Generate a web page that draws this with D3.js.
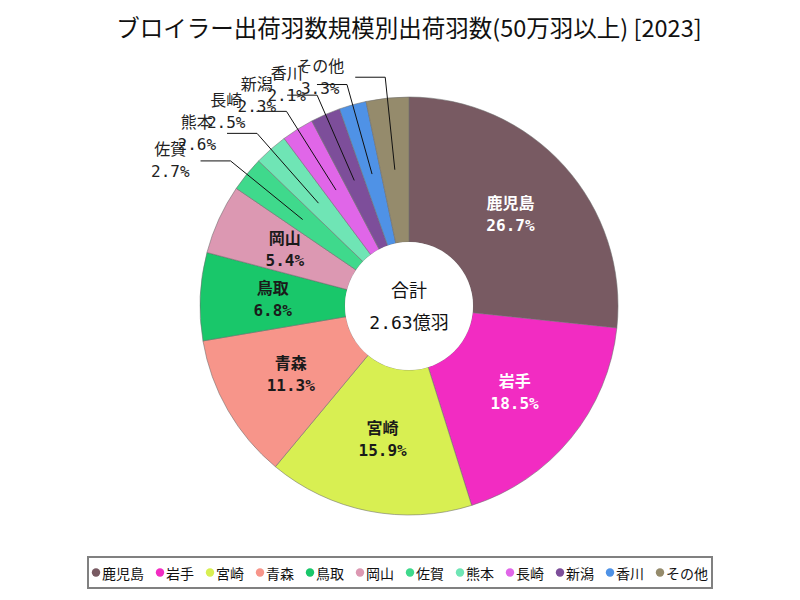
<!DOCTYPE html>
<html><head><meta charset="utf-8">
<script src="https://cdn.jsdelivr.net/npm/d3@7"></script>
<style>
html,body{margin:0;padding:0;background:#fff;}
svg{display:block;}
</style></head>
<body>
<svg id="chart" width="800" height="600"></svg>
<script>
const categories = ["鹿児島","岩手","宮崎","青森","鳥取","岡山","佐賀","熊本","長崎","新潟","香川","その他"];
const shares = [26.7, 18.5, 15.9, 11.3, 6.8, 5.4, 2.7, 2.6, 2.5, 2.3, 2.1, 3.3];
const colors = ["#785a62","#f22cc2","#d8ef52","#f7958a","#19c76a","#dc98b2","#3fd98c","#6fe5b5","#e066e8","#7d4e9a","#4f92e6","#958b6c"];
const titleText = "ブロイラー出荷羽数規模別出荷羽数(50万羽以上) [2023]";
const centerLines = ["合計", "2.63億羽"];
const whiteLabel = ["鹿児島","岩手"];

const FONT = "'DejaVu Sans Mono','Noto Sans CJK JP',sans-serif";
const svg = d3.select("#chart");
const cx = 409, cy = 306, rOut = 209, rIn = 64;

svg.append("text").attr("x", 409).attr("y", 27)
  .attr("text-anchor","middle").attr("dominant-baseline","central")
  .attr("font-family","'Noto Sans CJK JP',sans-serif").attr("font-size",23.5)
  .attr("fill","#111").text(titleText);

const data = categories.map((c,i)=>({name:c, value:shares[i], color:colors[i]}));
const pie = d3.pie().value(d=>d.value).sort(null).startAngle(0).endAngle(2*Math.PI);
const arcs = pie(data);
const arc = d3.arc().innerRadius(rIn).outerRadius(rOut);
const g = svg.append("g").attr("transform",`translate(${cx},${cy})`);

g.selectAll("path.slice").data(arcs).enter().append("path")
  .attr("class","slice").attr("d",arc).attr("fill",d=>d.data.color)
  .attr("stroke","rgba(110,110,110,0.7)").attr("stroke-width",0.8);

g.append("circle").attr("r",rIn).attr("fill","#fff");
g.append("text").attr("x",0).attr("y",-16).attr("text-anchor","middle")
  .attr("dominant-baseline","central").attr("font-family",FONT).attr("font-size",18)
  .attr("fill","#111").text(centerLines[0]);
g.append("text").attr("x",0).attr("y",16).attr("text-anchor","middle")
  .attr("dominant-baseline","central").attr("font-family",FONT).attr("font-size",18)
  .attr("fill","#111").text(centerLines[1]);

const fmt = v => v.toFixed(1) + "%";
const inner = arcs.filter(d=>d.data.value >= 5);
const outer = arcs.filter(d=>d.data.value < 5);

inner.forEach(d=>{
  const [x,y] = arc.centroid(d);
  const col = whiteLabel.includes(d.data.name) ? "#fff" : "#1a1a1a";
  const t = g.append("g").attr("font-family",FONT).attr("font-size",16)
    .attr("font-weight","bold").attr("fill",col).attr("text-anchor","middle");
  t.append("text").attr("x",x).attr("y",y-11).attr("dominant-baseline","central").text(d.data.name);
  t.append("text").attr("x",x).attr("y",y+11).attr("dominant-baseline","central").text(fmt(d.data.value));
});

const rStart = 137, rElbow = 230, hLen = 30, gap = 11;
outer.forEach(d=>{
  const a = (d.startAngle + d.endAngle)/2;
  const sx = rStart*Math.sin(a), sy = -rStart*Math.cos(a);
  const ex = rElbow*Math.sin(a), ey = -rElbow*Math.cos(a);
  const lx = ex - hLen;
  g.append("polyline").attr("points",`${sx},${sy} ${ex},${ey} ${lx},${ey}`)
    .attr("fill","none").attr("stroke","#111").attr("stroke-width",1);
  const t = g.append("g").attr("font-family",FONT).attr("font-size",16)
    .attr("fill","#222").attr("text-anchor","middle");
  const t1 = t.append("text").attr("y",ey-11).attr("dominant-baseline","central").text(d.data.name);
  const t2 = t.append("text").attr("y",ey+11).attr("dominant-baseline","central").text(fmt(d.data.value));
  const w = Math.max(t1.node().getComputedTextLength(), t2.node().getComputedTextLength());
  const c = lx - gap - w/2;
  t1.attr("x",c); t2.attr("x",c);
});

// legend
const lg = svg.append("g");
let xpos = 0;
data.forEach((d,i)=>{
  const it = lg.append("g");
  it.append("circle").attr("cx",xpos+4).attr("cy",0).attr("r",4.2).attr("fill",d.color);
  const tx = it.append("text").attr("x",xpos+10).attr("y",0).attr("dominant-baseline","central")
    .attr("font-family","'Noto Sans CJK JP',sans-serif").attr("font-size",14).attr("fill","#111").text(d.name);
  const w = tx.node().getComputedTextLength();
  xpos += 10 + w + 12;
});
const totalW = xpos - 12;
const boxX = 88, boxW = 624, boxY = 557, boxH = 31;
lg.attr("transform",`translate(${boxX + (boxW-totalW)/2},${boxY+boxH/2})`);
svg.insert("rect","g").attr("x",boxX).attr("y",boxY).attr("width",boxW).attr("height",boxH)
  .attr("fill","#fff").attr("stroke","#808080").attr("stroke-width",2);
</script>
</body></html>
